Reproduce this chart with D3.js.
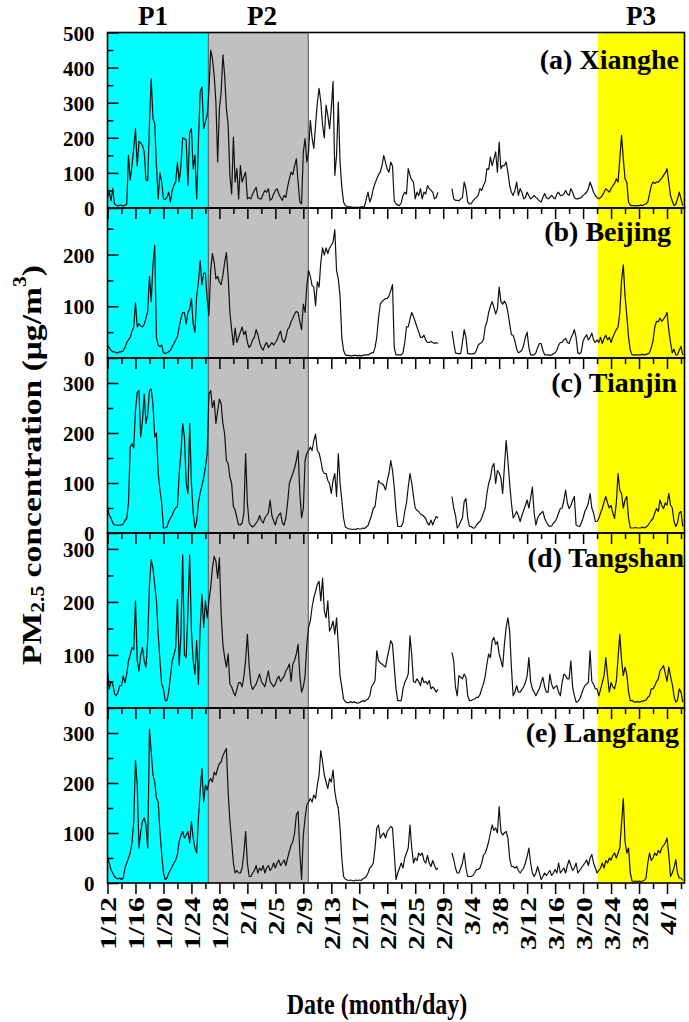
<!DOCTYPE html>
<html><head><meta charset="utf-8">
<script src="https://cdn.jsdelivr.net/npm/d3@7"></script>
<style>
body{margin:0;background:#fff}
svg text{font-family:"Liberation Serif","Times New Roman",serif;font-weight:bold;fill:#000}
</style>
</head><body>
<svg id="chart" width="689" height="1022"></svg>
<script>
// ---------- data ----------
const startTime = "2016-01-12T00:00";
const endTime = "2016-04-03T12:00";
const stepHours = 6;
const xTickLabels = ["1/12","1/16","1/20","1/24","1/28","2/1","2/5","2/9","2/13","2/17","2/21","2/25","2/29","3/4","3/8","3/12","3/16","3/20","3/24","3/28","4/1"];
const stationNames = ["(a) Xianghe","(b) Beijing","(c) Tianjin","(d) Tangshan","(e) Langfang"];
const yMaxima = [500, 290, 350, 330, 350];
const periodNames = ["P1","P2","P3"];
const periodStarts = ["2016-01-12T00:00","2016-01-26T10:00","2016-03-22T02:00"];
const periodEnds = ["2016-01-26T10:00","2016-02-09T17:00","2016-04-03T12:00"];

const xianghe = [
30,45,20,55, 12,8,6,8, 8,6,8,10, 150,80,120,170,
226,120,190,185, 178,160,80,78, 240,369,255,240, 121,26,100,74,
26,24,30,45, 17,50,65,75, 130,75,120,200, 198,193,64,215,
226,112,150,26, 188,331,345,226, 245,264,331,450, 426,378,302,131,
283,331,436,378, 283,236,93,40, 202,74,112,26, 121,74,90,102,
26,30,26,40, 50,59,30,26, 26,40,50,45, 55,22,26,40,
50,55,40,30, 22,36,30,60, 83,102,95,120, 140,74,17,12,
160,198,131,160, 250,200,170,236, 300,341,302,236, 200,293,264,226,
283,360,93,150, 302,131,60,17, 7,5,3,3, 2,2,2,2,
2,3,3,5, 26,45,17,30, 55,70,83,95, 102,121,150,130,
110,102,131,120, 20,12,8,7, 15,36,45,40, 112,93,80,74,
26,45,35,55, 26,45,40,64, 55,50,45,26, 30,45,null,null,
null,null,null,null, null,55,26,22, 22,20,26,30, 74,55,17,12,
12,20,26,30, 36,55,50,64, 74,112,110,145, 121,140,160,102,
188,112,121,121, 131,102,64,45, 36,50,74,36, 55,45,26,30,
45,35,26,30, 36,30,26,20, 17,30,41,30, 26,30,36,30,
26,40,45,35, 36,40,50,40, 36,55,45,30, 26,26,28,30,
36,40,45,55, 74,60,45,35, 30,26,30,36, 45,55,50,45,
55,64,70,83, 74,140,207,140, 83,74,17,8, 7,7,6,7,
7,8,7,10, 12,17,40,64, 74,70,74,74, 79,85,93,100,
112,74,36,20, 7,10,26,45, 26,7];

const beijing = [
25,20,15,12, 12,10,10,12, 12,14,20,30, 35,40,52,60,
107,60,66,62, 60,65,77,90, 158,109,180,218, 39,25,22,25,
10,9,10,12, 15,22,28,35, 41,60,77,88, 88,66,88,95,
115,66,50,120, 147,188,142,164, 164,115,82,169, 202,185,153,158,
147,142,160,185, 204,158,88,55, 25,58,30,40, 50,60,45,52,
30,20,25,35, 40,55,45,30, 20,15,25,30, 20,25,30,25,
30,35,45,52, 35,30,40,55, 60,70,77,85, 90,88,70,55,
104,88,140,169, 158,140,137,101, 147,137,185,213, 199,213,202,213,
218,224,248,169, 153,120,40,15, 6,5,5,4, 4,5,5,4,
5,4,5,6, 6,6,8,10, 10,20,40,77, 104,109,112,115,
115,120,130,142, 20,6,6,6, 6,10,30,60, 60,75,88,80,
70,60,50,40, 40,44,35,30, 30,32,30,28, 30,28,null,null,
null,null,null,null, null,52,30,10, 9,8,9,30, 55,40,9,8,
8,8,9,15, 25,28,30,35, 60,70,88,100, 109,98,85,95,
137,109,104,110, 104,88,66,45, 44,33,17,10, 12,15,25,40,
50,20,6,6, 6,10,20,28, 28,15,6,6, 6,5,6,8,
10,15,25,30, 30,35,38,30, 28,38,45,55, 40,10,8,12,
33,40,45,35, 40,48,35,30, 35,30,40,28, 38,44,35,40,
30,40,48,55, 60,88,150,180, 120,82,40,15, 6,6,6,6,
6,6,7,6, 7,8,10,20, 33,60,71,70, 77,71,75,80,
88,55,30,10, 17,6,6,15, 22,6];

const tianjin = [
49,36,30,20, 16,16,15,16, 16,18,25,29, 60,172,179,170,
245,281,285,192, 225,278,219,238, 285,288,258,192, 200,119,86,60,
10,10,12,23, 30,35,45,50, 53,119,160,219, 192,100,79,219,
100,40,10,23, 60,80,95,110, 132,159,278,285, 251,265,219,245,
268,258,219,198, 145,139,112,99, 53,46,30,16, 16,20,40,159,
60,20,15,12, 15,20,25,35, 25,20,30,35, 40,66,35,25,
16,30,36,40, 20,16,30,60, 99,110,119,130, 145,165,80,30,
49,145,159,165, 172,165,185,198, 165,160,145,125, 119,119,105,99,
79,105,119,73, 159,100,66,30, 12,10,8,8, 7,8,7,9,
8,8,10,9, 12,15,25,35, 49,53,80,105, 100,99,95,86,
105,120,145,125, 92,45,13,13, 13,20,43,60, 92,119,100,73,
50,45,43,38, 36,33,29,20, 16,26,16,25, 33,30,null,null,
null,null,null,null, null,73,50,36, 10,15,23,30, 63,69,30,13,
13,10,10,16, 20,23,30,40, 50,79,99,110, 132,139,99,125,
120,110,79,132, 185,145,99,60, 30,36,43,35, 23,35,45,55,
66,50,70,92, 40,16,30,36, 40,43,30,22, 16,13,14,20,
23,30,40,49, 50,65,86,60, 49,55,65,73, 16,14,13,20,
30,43,50,60, 79,50,40,23, 23,29,40,49, 62,73,60,50,
55,40,29,60, 119,85,79,50, 66,73,30,10, 10,10,11,10,
10,10,12,10, 12,15,20,25, 29,40,49,43, 66,55,49,60,
56,79,56,50, 23,13,20,40, 43,13];

const tangshan = [
70,36,50,45, 27,23,30,42, 42,60,48,64, 89,100,114,110,
202,90,70,100, 114,89,77,130, 233,280,264,233, 202,139,89,45,
36,14,14,30, 60,89,100,114, 205,80,139,289, 100,95,183,289,
145,90,64,127, 45,150,214,152, 202,170,202,227, 264,286,277,245,
283,177,120,95, 77,102,45,40, 30,23,35,48, 48,40,60,90,
139,80,45,35, 40,45,55,64, 50,45,40,55, 70,50,45,40,
45,55,60,50, 55,60,70,75, 83,50,83,90, 102,120,60,30,
40,61,120,152, 164,190,208,220, 233,239,202,245, 183,170,202,145,
152,164,139,170, 120,60,40,17, 12,10,10,12, 10,12,10,9,
10,12,14,12, 15,17,23,40, 45,52,108,89, 85,83,80,77,
95,110,127,120, 77,36,14,14, 14,36,48,55, 64,136,100,50,
48,55,50,42, 58,48,50,45, 52,36,40,36, 30,35,null,null,
null,null,null,null, null,105,89,40, 23,61,58,55, 64,58,23,14,
14,16,17,20, 20,25,36,45, 60,83,102,95, 127,133,120,125,
102,90,77,120, 152,170,145,77, 23,30,42,30, 30,35,40,48,
61,95,50,36, 30,23,30,36, 48,58,40,30, 30,64,45,36,
40,42,30,23, 48,64,61,55, 55,89,40,24, 11,12,17,25,
35,42,45,48, 108,50,45,36, 36,23,35,48, 61,95,60,30,
48,40,36,50, 95,139,90,61, 77,64,30,14, 14,12,11,12,
11,12,13,14, 15,20,23,36, 36,42,50,55, 70,75,80,65,
50,77,60,45, 23,11,15,36, 30,11];

const langfang = [
50,40,26,20, 13,10,8,10, 7,10,30,40, 50,60,80,123,
245,196,70,103, 123,130,116,70, 308,262,216,202, 170,162,103,57,
20,7,10,20, 26,33,40,46, 57,83,95,103, 90,95,103,80,
123,90,70,60, 130,183,229,162, 196,186,202,209, 202,222,216,229,
239,242,255,262, 269,183,123,83, 40,20,25,20, 20,30,60,103,
40,13,13,20, 25,35,20,30, 25,35,20,30, 35,25,30,40,
30,40,46,35, 40,46,35,50, 63,76,83,100, 136,143,60,7,
96,130,156,162, 169,162,176,169, 196,216,265,242, 216,202,189,209,
202,226,183,162, 149,110,50,13, 8,6,5,6, 5,4,6,5,
6,5,8,10, 13,20,30,33, 40,70,110,116, 90,96,100,90,
103,108,113,110, 60,7,20,30, 40,30,50,60, 70,116,70,40,
50,45,60,55, 60,45,40,55, 40,33,45,35, 27,30,null,null,
null,null,null,null, null,60,47,30, 20,20,30,40, 60,30,13,13,
13,15,20,27, 27,30,40,55, 60,70,83,100, 116,105,110,100,
153,103,96,100, 103,90,50,33, 33,30,33,25, 20,25,30,40,
53,70,40,20, 13,20,33,20, 7,13,20,15, 20,25,15,20,
27,20,40,20, 25,30,20,35, 46,35,25,30, 40,20,25,30,
35,40,46,35, 50,57,40,30, 20,25,30,40, 30,45,40,50,
46,55,60,50, 60,70,120,169, 83,60,70,20, 4,3,4,3,
4,3,4,5, 10,40,60,45, 50,60,55,65, 60,70,75,80,
90,57,13,20, 30,47,20,10, 10,5];

const seriesList = [xianghe, beijing, tianjin, tangshan, langfang];

// ---------- layout / style ----------
const plotL = 107.5, plotR = 684.5;
const panelTops = [32.5, 208, 358, 533, 708];
const plotB = 883;
const periodColors = ["#00FFFF", "#C0C0C0", "#FFFF00"];
const labelPos = [[679, 69], [671, 241], [677, 392], [684, 567], [679, 742]];
const periodLabelX = [153, 262, 641];

const parse = d3.timeParse("%Y-%m-%dT%H:%M");
const t0 = parse(startTime), t1 = parse(endTime);
seriesList.forEach((s, i) => { if (s.length !== 330) throw new Error("series " + i + " length " + s.length); });
const times = xianghe.map((_, i) => d3.timeHour.offset(t0, i * stepHours));

const svg = d3.select("#chart");
const x = d3.scaleTime().domain([t0, t1]).range([plotL, plotR]);
const plotT = panelTops[0];

periodNames.forEach((p, i) => {
  const a = x(parse(periodStarts[i])), b = x(parse(periodEnds[i]));
  svg.append("rect").attr("x", a).attr("y", plotT).attr("width", b - a).attr("height", plotB - plotT)
    .attr("fill", periodColors[i]);
  svg.append("text").attr("x", periodLabelX[i]).attr("y", 25).attr("text-anchor", "middle")
    .attr("font-size", 27).text(p);
});
[periodEnds[0], periodEnds[1]].forEach(d => {
  const xx = x(parse(d));
  svg.append("line").attr("x1", xx).attr("x2", xx).attr("y1", plotT).attr("y2", plotB)
    .attr("stroke", "#555").attr("stroke-width", 1);
});

const md = s => { const [m, d] = s.split("/").map(Number); return new Date(2016, m - 1, d); };
const majorDates = xTickLabels.map(md);
const minorDates = majorDates.map(d => d3.timeDay.offset(d, 2)).filter(d => d < t1);
const fmt = d => (d.getMonth() + 1) + "/" + d.getDate();

seriesList.forEach((vals, i) => {
  const top = panelTops[i], bot = i < 4 ? panelTops[i + 1] : plotB;
  const y = d3.scaleLinear().domain([0, yMaxima[i]]).range([bot, top]);
  const g = svg.append("g");

  const line = d3.line().defined(d => d[1] != null).x(d => x(d[0])).y(d => y(d[1]));
  g.append("path").datum(times.map((t, k) => [t, vals[k]]))
    .attr("d", line).attr("fill", "none").attr("stroke", "#111").attr("stroke-width", 1.2)
    .attr("stroke-linejoin", "round");

  const minorY = d3.range(50, yMaxima[i], 100);
  const majorY = d3.range(0, yMaxima[i] + 1, 100);
  const ay1 = g.append("g").attr("transform", `translate(${plotL},0)`)
    .call(d3.axisLeft(y).tickValues(minorY).tickSize(-6).tickFormat(""));
  const ay2 = g.append("g").attr("transform", `translate(${plotL},0)`)
    .call(d3.axisLeft(y).tickValues(majorY).tickSize(-11).tickPadding(13).tickFormat(d3.format("d")));
  [ay1, ay2].forEach(a => { a.select(".domain").remove(); a.selectAll("line").attr("stroke", "#000").attr("stroke-width", 1.5); });
  ay2.selectAll("text").attr("font-size", 21).attr("font-family", null).attr("dy", "0.36em");

  const ax1 = g.append("g").attr("transform", `translate(0,${bot})`)
    .call(d3.axisBottom(x).tickValues(minorDates).tickSize(6).tickFormat(""));
  const ax2 = g.append("g").attr("transform", `translate(0,${bot})`)
    .call(d3.axisBottom(x).tickValues(majorDates).tickSize(11).tickFormat(i === 4 ? fmt : () => ""));
  [ax1, ax2].forEach(a => { a.select(".domain").remove(); a.selectAll("line").attr("stroke", "#000").attr("stroke-width", 1.5); });
  if (i === 4) {
    ax2.selectAll("text").attr("font-size", 23).attr("font-family", null)
      .attr("x", 0).attr("y", 0).attr("dy", "0.35em")
      .attr("transform", "translate(0,14) rotate(-90) scale(1.3,1)").style("text-anchor", "end");
  }

  g.append("rect").attr("x", plotL).attr("y", top).attr("width", plotR - plotL).attr("height", bot - top)
    .attr("fill", "none").attr("stroke", "#000").attr("stroke-width", 1.6);

  g.append("text").attr("x", labelPos[i][0]).attr("y", labelPos[i][1]).attr("text-anchor", "end")
    .attr("font-size", 28).text(stationNames[i]);
});

const ytG = svg.append("g").attr("transform", "translate(31,465) rotate(-90)");
const yt = ytG.append("text").attr("text-anchor", "middle").attr("dominant-baseline", "central").attr("font-size", 28);
yt.append("tspan").text("PM");
yt.append("tspan").attr("font-size", 18).attr("dy", 7).text("2.5");
yt.append("tspan").attr("dy", -7).text(" concentration (μg/m");
yt.append("tspan").attr("font-size", 18).attr("dy", -11).text("3");
yt.append("tspan").attr("dy", 11).text(")");
const ytLen = yt.node().getBBox().width;
yt.attr("transform", `scale(${400 / ytLen},1)`);

svg.append("text").attr("x", 377).attr("y", 1014).attr("text-anchor", "middle")
  .attr("font-size", 24).attr("transform", "translate(0,1014) scale(1,1.25) translate(0,-1014)")
  .text("Date (month/day)");
</script>
</body></html>
